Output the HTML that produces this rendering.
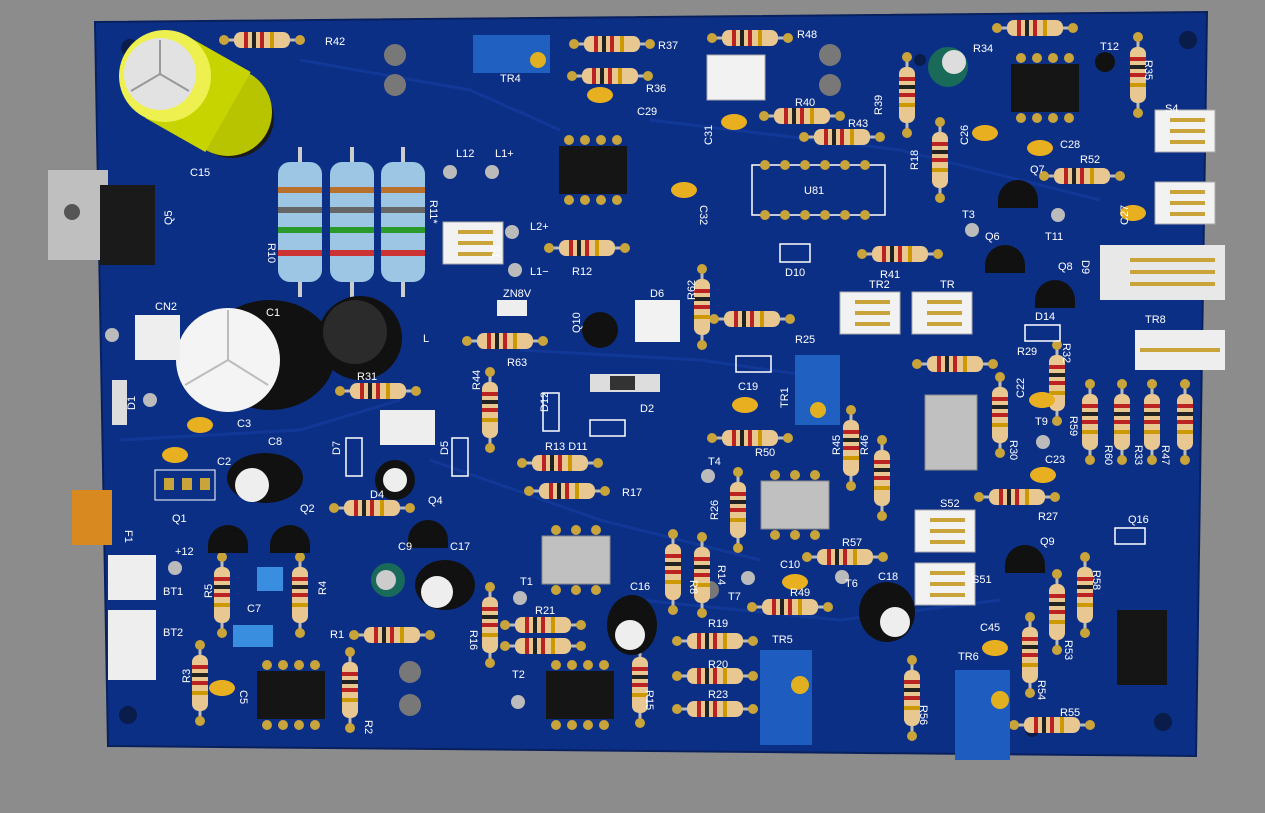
<!DOCTYPE html>
<html><head><meta charset="utf-8"><style>
html,body{margin:0;padding:0;background:#8c8c8c;width:1265px;height:813px;overflow:hidden}
svg{display:block}
text{font-family:"Liberation Sans",sans-serif;font-size:11px;fill:#fff}
</style></head><body>
<svg width="1265" height="813" viewBox="0 0 1265 813">
<defs>
<g id="rh"><line x1="-40" y1="0" x2="40" y2="0" stroke="#bbb" stroke-width="3"/><circle cx="-38" cy="0" r="5" fill="#c9a43a"/><circle cx="38" cy="0" r="5" fill="#c9a43a"/><rect x="-28" y="-8" width="56" height="16" rx="7" fill="#e8c890"/><rect x="-18" y="-8" width="4" height="16" fill="#b22"/><rect x="-10" y="-8" width="4" height="16" fill="#222"/><rect x="-2" y="-8" width="4" height="16" fill="#b22"/><rect x="8" y="-8" width="4" height="16" fill="#c90"/></g>
<g id="rv"><use href="#rh" transform="rotate(90)"/></g>
<g id="bigR"><rect x="-22" y="-60" width="44" height="120" rx="12" fill="#9cc6e4"/><rect x="-22" y="-35" width="44" height="6" fill="#b9702a"/><rect x="-22" y="-15" width="44" height="6" fill="#666"/><rect x="-22" y="5" width="44" height="6" fill="#2a9a2a"/><rect x="-22" y="28" width="44" height="6" fill="#c33"/><line x1="0" y1="-75" x2="0" y2="-60" stroke="#ccc" stroke-width="4"/><line x1="0" y1="60" x2="0" y2="75" stroke="#ccc" stroke-width="4"/></g>
<g id="ic8"><rect x="-34" y="-24" width="68" height="48" fill="#151515"/><g fill="#c9a43a"><circle cx="-24" cy="-30" r="5"/><circle cx="-8" cy="-30" r="5"/><circle cx="8" cy="-30" r="5"/><circle cx="24" cy="-30" r="5"/><circle cx="-24" cy="30" r="5"/><circle cx="-8" cy="30" r="5"/><circle cx="8" cy="30" r="5"/><circle cx="24" cy="30" r="5"/></g></g>
<g id="opto"><rect x="-34" y="-24" width="68" height="48" fill="#c0c0c0" stroke="#888"/><g fill="#c9a43a"><circle cx="-20" cy="-30" r="5"/><circle cx="0" cy="-30" r="5"/><circle cx="20" cy="-30" r="5"/><circle cx="-20" cy="30" r="5"/><circle cx="0" cy="30" r="5"/><circle cx="20" cy="30" r="5"/></g></g>
<g id="to92"><path d="M-20,0 A20,20 0 1,1 20,0 L20,8 L-20,8Z" fill="#111"/></g>
<g id="ycap"><ellipse cx="0" cy="0" rx="13" ry="8" fill="#e8b020"/></g>
<g id="conn"><rect x="0" y="0" width="60" height="42" fill="#f2f2f2" stroke="#aaa"/><g stroke="#c9a43a" stroke-width="4"><line x1="15" y1="21" x2="50" y2="21"/><line x1="15" y1="10" x2="50" y2="10"/><line x1="15" y1="32" x2="50" y2="32"/></g></g>
</defs>

<polygon points="95,22 1207,12 1196,756 108,746" fill="#0c2f86"/>
<polygon points="95,22 1207,12 1196,756 108,746" fill="none" stroke="#08205e" stroke-width="2"/>
<g stroke="#133b9a" stroke-width="3" fill="none" opacity="0.8">
<path d="M300,60 L470,90 L560,130"/><path d="M650,120 L900,150 L1100,200"/><path d="M430,460 L600,520 L760,560"/><path d="M520,350 L700,360 L840,380"/><path d="M120,440 L300,430 L400,400"/><path d="M640,600 L840,620 L1000,600"/>
</g>

<g fill="#787878"><circle cx="395" cy="55" r="11"/><circle cx="395" cy="85" r="11"/><circle cx="830" cy="55" r="11"/><circle cx="830" cy="85" r="11"/><circle cx="410" cy="672" r="11"/><circle cx="410" cy="705" r="11"/><circle cx="710" cy="590" r="9"/></g>
<g fill="#0a1c4a"><circle cx="130" cy="48" r="9"/><circle cx="1188" cy="40" r="9"/><circle cx="128" cy="715" r="9"/><circle cx="1163" cy="722" r="9"/><circle cx="1032" cy="730" r="7"/><circle cx="920" cy="60" r="6"/></g>

<!-- big yellow cap C15 -->
<ellipse cx="232" cy="118" rx="42" ry="40" fill="#1a1a1a"/>
<line x1="168" y1="78" x2="228" y2="112" stroke="#c8d400" stroke-width="92" stroke-linecap="butt"/>
<ellipse cx="228" cy="112" rx="44" ry="44" fill="#b9c400"/>
<line x1="168" y1="78" x2="228" y2="112" stroke="#c8d400" stroke-width="88"/>
<circle cx="165" cy="76" r="46" fill="#eef050"/>
<circle cx="160" cy="74" r="36" fill="#e2e2e2"/>
<path d="M160,74 L160,40 M160,74 L131,91 M160,74 L189,91" stroke="#999" stroke-width="2"/>

<rect x="48" y="170" width="60" height="90" fill="#bfbfbf"/><circle cx="72" cy="212" r="8" fill="#555"/>
<rect x="100" y="185" width="55" height="80" fill="#1a1a1a"/>

<use href="#bigR" x="300" y="222"/><use href="#bigR" x="352" y="222"/><use href="#bigR" x="403" y="222"/>

<ellipse cx="270" cy="355" rx="65" ry="55" fill="#111"/>
<ellipse cx="228" cy="360" rx="52" ry="52" fill="#f4f4f4"/>
<path d="M228,360 L228,310 M228,360 L185,385 M228,360 L268,385" stroke="#bbb" stroke-width="2"/>
<circle cx="360" cy="338" r="42" fill="#111"/><circle cx="355" cy="332" r="32" fill="#2b2b2b"/>

<use href="#rh" x="262" y="40"/><use href="#rh" x="612" y="44"/><use href="#rh" x="610" y="76"/><use href="#rh" x="750" y="38"/><use href="#rh" x="802" y="116"/><use href="#rh" x="842" y="137"/><use href="#rh" x="1035" y="28"/><use href="#rh" x="1082" y="176"/><use href="#rh" x="587" y="248"/><use href="#rh" x="505" y="341"/><use href="#rh" x="752" y="319"/><use href="#rh" x="900" y="254"/><use href="#rh" x="955" y="364"/><use href="#rh" x="378" y="391"/><use href="#rh" x="560" y="463"/><use href="#rh" x="567" y="491"/><use href="#rh" x="750" y="438"/><use href="#rh" x="1017" y="497"/><use href="#rh" x="845" y="557"/><use href="#rh" x="790" y="607"/><use href="#rh" x="715" y="641"/><use href="#rh" x="715" y="676"/><use href="#rh" x="715" y="709"/><use href="#rh" x="543" y="625"/><use href="#rh" x="543" y="646"/><use href="#rh" x="392" y="635"/><use href="#rh" x="1052" y="725"/><use href="#rh" x="372" y="508"/>
<use href="#rv" x="907" y="95"/><use href="#rv" x="940" y="160"/><use href="#rv" x="1138" y="75"/><use href="#rv" x="702" y="307"/><use href="#rv" x="490" y="410"/><use href="#rv" x="851" y="448"/><use href="#rv" x="882" y="478"/><use href="#rv" x="738" y="510"/><use href="#rv" x="673" y="572"/><use href="#rv" x="702" y="575"/><use href="#rv" x="490" y="625"/><use href="#rv" x="640" y="685"/><use href="#rv" x="200" y="683"/><use href="#rv" x="350" y="690"/><use href="#rv" x="222" y="595"/><use href="#rv" x="300" y="595"/><use href="#rv" x="1057" y="383"/><use href="#rv" x="1000" y="415"/><use href="#rv" x="1090" y="422"/><use href="#rv" x="1122" y="422"/><use href="#rv" x="1152" y="422"/><use href="#rv" x="1185" y="422"/><use href="#rv" x="1085" y="595"/><use href="#rv" x="1057" y="612"/><use href="#rv" x="1030" y="655"/><use href="#rv" x="912" y="698"/>

<use href="#ic8" x="593" y="170"/><use href="#ic8" x="1045" y="88"/><use href="#ic8" x="291" y="695"/><use href="#ic8" x="580" y="695"/>
<rect x="1117" y="610" width="50" height="75" fill="#151515"/>
<use href="#opto" x="576" y="560"/><use href="#opto" x="795" y="505"/>
<rect x="925" y="395" width="52" height="75" fill="#c0c0c0" stroke="#888"/>
<rect x="752" y="165" width="133" height="50" fill="none" stroke="#fff" stroke-width="1.5"/>
<g fill="#c9a43a"><circle cx="765" cy="165" r="5"/><circle cx="785" cy="165" r="5"/><circle cx="805" cy="165" r="5"/><circle cx="825" cy="165" r="5"/><circle cx="845" cy="165" r="5"/><circle cx="865" cy="165" r="5"/><circle cx="765" cy="215" r="5"/><circle cx="785" cy="215" r="5"/><circle cx="805" cy="215" r="5"/><circle cx="825" cy="215" r="5"/><circle cx="845" cy="215" r="5"/><circle cx="865" cy="215" r="5"/></g>

<rect x="707" y="55" width="58" height="45" fill="#f2f2f2" stroke="#aaa"/>
<use href="#conn" x="443" y="222"/>
<rect x="635" y="300" width="45" height="42" fill="#f2f2f2"/>
<use href="#conn" x="840" y="292"/><use href="#conn" x="912" y="292"/>
<use href="#conn" x="1155" y="110"/><use href="#conn" x="1155" y="182"/>
<rect x="1100" y="245" width="125" height="55" fill="#e8e8e8"/><g stroke="#c9a43a" stroke-width="4"><line x1="1130" y1="260" x2="1215" y2="260"/><line x1="1130" y1="272" x2="1215" y2="272"/><line x1="1130" y1="284" x2="1215" y2="284"/></g>
<rect x="1135" y="330" width="90" height="40" fill="#eee"/><line x1="1140" y1="350" x2="1220" y2="350" stroke="#c9a43a" stroke-width="4"/>
<use href="#conn" x="915" y="510"/><use href="#conn" x="915" y="563"/>
<rect x="108" y="555" width="48" height="45" fill="#eee"/><rect x="108" y="610" width="48" height="70" fill="#eee"/>
<rect x="135" y="315" width="45" height="45" fill="#eee"/>
<rect x="380" y="410" width="55" height="35" fill="#eee"/>

<rect x="473" y="35" width="77" height="38" fill="#2060c0"/><circle cx="538" cy="60" r="8" fill="#e0b020"/>
<rect x="795" y="355" width="45" height="70" fill="#2060c0"/><circle cx="818" cy="410" r="8" fill="#e0b020"/>
<rect x="760" y="650" width="52" height="95" fill="#1e5cc0"/><circle cx="800" cy="685" r="9" fill="#e0b020"/>
<rect x="955" y="670" width="55" height="90" fill="#1e5cc0"/><circle cx="1000" cy="700" r="9" fill="#e0b020"/>

<ellipse cx="265" cy="478" rx="38" ry="25" fill="#111"/><circle cx="252" cy="485" r="17" fill="#eee"/>
<ellipse cx="445" cy="585" rx="30" ry="25" fill="#111"/><circle cx="437" cy="592" r="16" fill="#eee"/>
<ellipse cx="632" cy="625" rx="25" ry="30" fill="#111"/><circle cx="630" cy="635" r="15" fill="#eee"/>
<ellipse cx="887" cy="612" rx="28" ry="30" fill="#111"/><circle cx="895" cy="622" r="15" fill="#eee"/>
<ellipse cx="395" cy="480" rx="20" ry="20" fill="#111"/><circle cx="395" cy="480" r="12" fill="#eee"/>
<circle cx="388" cy="580" r="17" fill="#1a6a5a"/><circle cx="386" cy="580" r="10" fill="#ccc"/>
<circle cx="948" cy="67" r="20" fill="#1a6a5a"/><circle cx="954" cy="62" r="12" fill="#ddd"/>

<use href="#to92" x="228" y="545"/><use href="#to92" x="290" y="545"/><use href="#to92" x="428" y="540"/>
<circle cx="600" cy="330" r="18" fill="#111"/>
<use href="#to92" x="1018" y="200"/><use href="#to92" x="1005" y="265"/><use href="#to92" x="1055" y="300"/><use href="#to92" x="1025" y="565"/>
<circle cx="1105" cy="62" r="10" fill="#111"/>

<use href="#ycap" x="600" y="95"/><use href="#ycap" x="734" y="122"/><use href="#ycap" x="684" y="190"/><use href="#ycap" x="985" y="133"/><use href="#ycap" x="1040" y="148"/><use href="#ycap" x="1133" y="213"/><use href="#ycap" x="745" y="405"/><use href="#ycap" x="1042" y="400"/><use href="#ycap" x="1043" y="475"/><use href="#ycap" x="795" y="582"/><use href="#ycap" x="995" y="648"/><use href="#ycap" x="175" y="455"/><use href="#ycap" x="200" y="425"/><use href="#ycap" x="222" y="688"/>
<rect x="257" y="567" width="26" height="24" fill="#3a8ee0"/><rect x="233" y="625" width="40" height="22" fill="#3a8ee0"/>
<rect x="72" y="490" width="40" height="55" fill="#d88a20"/>
<rect x="497" y="300" width="30" height="16" fill="#eee"/>
<rect x="590" y="374" width="70" height="18" fill="#ddd"/><rect x="610" y="376" width="25" height="14" fill="#333"/>
<rect x="155" y="470" width="60" height="30" fill="none" stroke="#fff"/><g fill="#c9a43a"><rect x="164" y="478" width="10" height="12"/><rect x="182" y="478" width="10" height="12"/><rect x="200" y="478" width="10" height="12"/></g>
<rect x="112" y="380" width="15" height="45" fill="#ddd"/>
<g fill="none" stroke="#fff" stroke-width="1.5"><rect x="736" y="356" width="35" height="16"/><rect x="780" y="244" width="30" height="18"/><rect x="1025" y="325" width="35" height="16"/><rect x="1115" y="528" width="30" height="16"/><rect x="346" y="438" width="16" height="38"/><rect x="452" y="438" width="16" height="38"/><rect x="543" y="393" width="16" height="38"/><rect x="590" y="420" width="35" height="16"/></g>

<g fill="#bbb"><circle cx="450" cy="172" r="7"/><circle cx="492" cy="172" r="7"/><circle cx="512" cy="232" r="7"/><circle cx="515" cy="270" r="7"/><circle cx="708" cy="476" r="7"/><circle cx="748" cy="578" r="7"/><circle cx="842" cy="577" r="7"/><circle cx="520" cy="598" r="7"/><circle cx="518" cy="702" r="7"/><circle cx="972" cy="230" r="7"/><circle cx="1058" cy="215" r="7"/><circle cx="175" cy="568" r="7"/><circle cx="150" cy="400" r="7"/><circle cx="112" cy="335" r="7"/><circle cx="1043" cy="442" r="7"/></g>

<text x="325" y="45">R42</text><text x="658" y="49">R37</text><text x="646" y="92">R36</text><text x="797" y="38">R48</text><text x="500" y="82">TR4</text><text x="637" y="115">C29</text><text x="973" y="52">R34</text><text x="1100" y="50">T12</text><text x="1145" y="60" transform="rotate(90 1145 60)">R35</text><text x="795" y="106">R40</text><text x="848" y="127">R43</text><text x="882" y="115" transform="rotate(-90 882 115)">R39</text><text x="918" y="170" transform="rotate(-90 918 170)">R18</text><text x="968" y="145" transform="rotate(-90 968 145)">C26</text><text x="1060" y="148">C28</text><text x="1080" y="163">R52</text><text x="1030" y="173">Q7</text><text x="1165" y="112">S4</text><text x="804" y="194">U81</text><text x="712" y="145" transform="rotate(-90 712 145)">C31</text><text x="700" y="205" transform="rotate(90 700 205)">C32</text><text x="190" y="176">C15</text><text x="172" y="225" transform="rotate(-90 172 225)">Q5</text><text x="456" y="157">L12</text><text x="495" y="157">L1+</text><text x="530" y="230">L2+</text><text x="530" y="275">L1−</text><text x="572" y="275">R12</text><text x="268" y="243" transform="rotate(90 268 243)">R10</text><text x="430" y="200" transform="rotate(90 430 200)">R11*</text><text x="492" y="245" transform="rotate(90 492 245)">S1</text><text x="962" y="218">T3</text><text x="985" y="240">Q6</text><text x="1045" y="240">T11</text><text x="1128" y="225" transform="rotate(-90 1128 225)">C27</text><text x="880" y="278">R41</text><text x="785" y="276">D10</text><text x="1058" y="270">Q8</text><text x="1082" y="260" transform="rotate(90 1082 260)">D9</text><text x="503" y="297">ZN8V</text><text x="650" y="297">D6</text><text x="695" y="300" transform="rotate(-90 695 300)">R62</text><text x="869" y="288">TR2</text><text x="940" y="288">TR</text><text x="1145" y="323">TR8</text><text x="580" y="333" transform="rotate(-90 580 333)">Q10</text><text x="507" y="366">R63</text><text x="795" y="343">R25</text><text x="1035" y="320">D14</text><text x="155" y="310">CN2</text><text x="266" y="316">C1</text><text x="423" y="342">L</text><text x="1017" y="355">R29</text><text x="1024" y="398" transform="rotate(-90 1024 398)">C22</text><text x="1063" y="343" transform="rotate(90 1063 343)">R32</text><text x="357" y="380">R31</text><text x="480" y="390" transform="rotate(-90 480 390)">R44</text><text x="640" y="412">D2</text><text x="548" y="412" transform="rotate(-90 548 412)">D12</text><text x="738" y="390">C19</text><text x="788" y="408" transform="rotate(-90 788 408)">TR1</text><text x="135" y="410" transform="rotate(-90 135 410)">D1</text><text x="237" y="427">C3</text><text x="268" y="445">C8</text><text x="217" y="465">C2</text><text x="545" y="450">R13 D11</text><text x="622" y="496">R17</text><text x="755" y="456">R50</text><text x="840" y="455" transform="rotate(-90 840 455)">R45</text><text x="868" y="455" transform="rotate(-90 868 455)">R46</text><text x="340" y="455" transform="rotate(-90 340 455)">D7</text><text x="448" y="455" transform="rotate(-90 448 455)">D5</text><text x="708" y="465">T4</text><text x="1035" y="425">T9</text><text x="1070" y="416" transform="rotate(90 1070 416)">R59</text><text x="1010" y="440" transform="rotate(90 1010 440)">R30</text><text x="1045" y="463">C23</text><text x="1105" y="445" transform="rotate(90 1105 445)">R60</text><text x="1135" y="445" transform="rotate(90 1135 445)">R33</text><text x="1162" y="445" transform="rotate(90 1162 445)">R47</text><text x="370" y="498">D4</text><text x="428" y="504">Q4</text><text x="172" y="522">Q1</text><text x="300" y="512">Q2</text><text x="1038" y="520">R27</text><text x="1128" y="523">Q16</text><text x="940" y="507">S52</text><text x="718" y="520" transform="rotate(-90 718 520)">R26</text><text x="125" y="530" transform="rotate(90 125 530)">F1</text><text x="1040" y="545">Q9</text><text x="398" y="550">C9</text><text x="450" y="550">C17</text><text x="175" y="555">+12</text><text x="163" y="595">BT1</text><text x="163" y="636">BT2</text><text x="842" y="546">R57</text><text x="780" y="568">C10</text><text x="845" y="587">T6</text><text x="878" y="580">C18</text><text x="972" y="583">S51</text><text x="690" y="580" transform="rotate(90 690 580)">R8</text><text x="718" y="565" transform="rotate(90 718 565)">R14</text><text x="520" y="585">T1</text><text x="630" y="590">C16</text><text x="728" y="600">T7</text><text x="790" y="596">R49</text><text x="212" y="598" transform="rotate(-90 212 598)">R5</text><text x="326" y="595" transform="rotate(-90 326 595)">R4</text><text x="470" y="630" transform="rotate(90 470 630)">R16</text><text x="535" y="614">R21</text><text x="330" y="638">R1</text><text x="247" y="612">C7</text><text x="708" y="627">R19</text><text x="980" y="631">C45</text><text x="1093" y="570" transform="rotate(90 1093 570)">R58</text><text x="1065" y="640" transform="rotate(90 1065 640)">R53</text><text x="958" y="660">TR6</text><text x="708" y="668">R20</text><text x="190" y="683" transform="rotate(-90 190 683)">R3</text><text x="240" y="690" transform="rotate(90 240 690)">C5</text><text x="512" y="678">T2</text><text x="646" y="690" transform="rotate(90 646 690)">R15</text><text x="708" y="698">R23</text><text x="1038" y="680" transform="rotate(90 1038 680)">R54</text><text x="920" y="705" transform="rotate(90 920 705)">R56</text><text x="365" y="720" transform="rotate(90 365 720)">R2</text><text x="1060" y="716">R55</text><text x="772" y="643">TR5</text>
</svg>
</body></html>
